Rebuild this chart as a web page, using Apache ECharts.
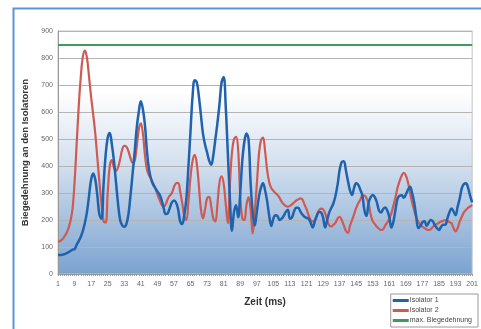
<!DOCTYPE html>
<html><head><meta charset="utf-8">
<script src="https://cdn.jsdelivr.net/npm/echarts@6/dist/echarts.min.js"></script>
<style>html,body{margin:0;padding:0;background:#fff}#c{width:481px;height:329px}</style>
</head><body><div id="c"></div>
<script>
// time categories (ms)
const categories = Array.from({length: 201}, (_, k) => String(k + 1));
const yTicks = [0,100,200,300,400,500,600,700,800,900];
const maxBiegedehnung = 850;
const isolator1 = [
70,70,71,73,76,80,85,90,92,108,122,138,160,190,230,290,350,372,350,290,
220,205,330,440,505,522,480,420,340,260,200,180,175,185,220,290,370,450,540,600,
640,610,550,450,385,350,330,318,305,295,275,245,222,225,245,265,272,265,240,195,
185,220,280,400,530,660,718,710,660,590,520,480,450,420,405,440,500,560,630,710,
730,620,450,280,160,230,255,210,300,420,490,520,500,340,230,180,230,285,320,336,
310,270,215,178,205,218,215,200,205,215,230,238,205,210,232,245,245,232,220,212,
208,205,190,172,195,215,230,228,210,172,200,228,245,262,290,330,385,415,418,385,
345,310,293,320,336,330,312,290,235,215,265,285,293,285,265,235,228,240,246,235,
210,172,195,240,280,290,292,282,295,312,323,300,265,212,170,178,192,195,178,190,
200,195,180,170,163,175,182,182,205,228,243,232,218,250,280,318,333,336,320,290,
265
];
const isolator2 = [
120,122,128,138,150,168,195,240,340,480,620,730,805,827,800,730,655,590,520,430,
340,260,195,190,300,400,422,395,382,395,425,460,475,472,455,430,412,418,470,535,
558,520,440,385,365,352,335,318,295,275,258,248,258,278,290,300,322,336,338,305,
262,215,200,270,360,420,441,410,330,240,206,240,280,286,250,205,195,260,340,362,
335,260,188,330,450,500,508,460,290,205,200,255,285,240,150,230,330,440,495,505,
455,385,340,318,308,300,293,282,268,258,252,249,252,258,265,272,276,280,276,258,
240,218,200,195,200,220,235,242,240,225,200,180,176,182,190,205,212,200,180,160,
152,178,200,222,245,262,275,290,290,280,262,220,195,185,175,168,163,166,180,190,
205,225,255,285,320,345,365,375,365,340,300,265,235,210,193,182,175,170,165,163,
165,175,181,185,190,194,197,200,198,192,188,170,158,170,195,212,228,237,245,250,
256
];

const chart = echarts.init(document.getElementById('c'), null, {renderer: 'canvas'});
const FONT = '"Liberation Sans", Arial, sans-serif';
chart.setOption({
  animation: false,
  backgroundColor: '#fff',
  textStyle: {fontFamily: FONT},
  graphic: [{
    type: 'rect', left: 11, top: 6, silent: true, z: -1,
    shape: {width: 480, height: 330},
    style: {fill: 'none', stroke: '#5b95d8', lineWidth: 2}
  }],
  grid: {
    left: 58, right: 5, top: 31, bottom: 55, show: true,
    borderColor: '#c4c4c4', borderWidth: 1,
    backgroundColor: {type: 'linear', x: 0, y: 0, x2: 0, y2: 1, colorStops: [
      {offset: 0, color: '#ffffff'}, {offset: 0.25, color: '#ffffff'},
      {offset: 0.55, color: '#d3e0ef'}, {offset: 1, color: '#7aa2cf'}]}
  },
  legend: {
    right: 3, bottom: 2, orient: 'vertical', itemGap: 3,
    itemWidth: 16, itemHeight: 3, icon: 'rect',
    padding: [3, 6, 3, 2], borderColor: '#999', borderWidth: 1,
    backgroundColor: '#fff',
    textStyle: {fontSize: 7, color: '#444', fontFamily: FONT, padding: [0,0,0,-4]},
    data: ['Isolator 1', 'Isolator 2', 'max. Biegedehnung']
  },
  xAxis: {
    type: 'category', data: categories, boundaryGap: false,
    name: 'Zeit (ms)', nameLocation: 'middle', nameGap: 23,
    nameTextStyle: {fontSize: 10, fontWeight: 'bold', color: '#333', fontFamily: FONT},
    axisLine: {lineStyle: {color: '#999'}},
    axisTick: {show: true, interval: 0, length: 2, lineStyle: {color: '#999'}},
    axisLabel: {interval: 7, fontSize: 7, color: '#666', margin: 7, fontFamily: FONT},
    splitLine: {show: false}
  },
  yAxis: {
    type: 'value', min: yTicks[0], max: yTicks[yTicks.length - 1], interval: 100,
    name: 'Biegedehnung an den Isolatoren', nameLocation: 'middle', nameGap: 28,
    nameTextStyle: {fontSize: 9.5, fontWeight: 'bold', color: '#333', fontFamily: FONT},
    axisLine: {show: true, lineStyle: {color: '#999'}},
    axisTick: {show: false},
    axisLabel: {fontSize: 7, color: '#666', margin: 5, fontFamily: FONT},
    splitLine: {lineStyle: {color: '#b4b4b4', width: 1.2}}
  },
  series: [
    {name: 'Isolator 1', type: 'line', data: isolator1, smooth: 0.4, symbol: 'none',
     color: '#1f62ad', lineStyle: {width: 2.5}, z: 3},
    {name: 'Isolator 2', type: 'line', data: isolator2, smooth: 0.4, symbol: 'none',
     color: '#cf5a52', lineStyle: {width: 2.2}, z: 2},
    {name: 'max. Biegedehnung', type: 'line', data: [], symbol: 'none', color: '#3f9a5c',
     markLine: {silent: true, symbol: 'none', label: {show: false},
       lineStyle: {color: '#3f9a5c', width: 2, type: 'solid'},
       data: [{yAxis: maxBiegedehnung}]}}
  ]
});
</script></body></html>
